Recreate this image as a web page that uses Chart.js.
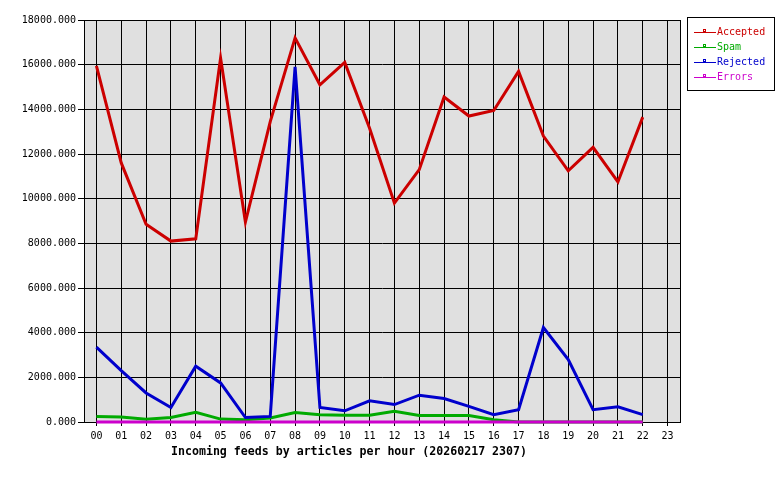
<!DOCTYPE html>
<html>
<head>
<meta charset="utf-8">
<script src="https://cdn.jsdelivr.net/npm/chart.js@4/dist/chart.umd.min.js"></script>
<style>
  html, body { margin: 0; padding: 0; background: #ffffff; }
  #wrap { width: 780px; height: 480px; position: relative; }
</style>
</head>
<body>
<div id="wrap"><canvas id="c" width="780" height="480"></canvas></div>
<script>
const hours = ['00','01','02','03','04','05','06','07','08','09','10','11','12','13','14','15','16','17','18','19','20','21','22','23'];
const accepted = [15950, 11600, 8850, 8100, 8200, 16300, 8950, 13450, 17200, 15100, 16100, 13150, 9800, 11300, 14550, 13700, 13950, 15700, 12800, 11250, 12300, 10750, 13650, null];
const spam     = [250, 220, 120, 200, 430, 130, 100, 180, 420, 330, 300, 300, 480, 290, 290, 290, 100, 0, 0, 0, 0, 0, 0, null];
const rejected = [3350, 2300, 1300, 650, 2500, 1750, 200, 250, 15900, 650, 500, 950, 780, 1200, 1050, 700, 330, 550, 4230, 2800, 550, 680, 330, null];
const errors   = [0, 0, 0, 0, 0, 0, 0, 0, 0, 0, 0, 0, 0, 0, 0, 0, 0, 0, 0, 0, 0, 0, 0, null];
const yTicks = [0, 2000, 4000, 6000, 8000, 10000, 12000, 14000, 16000, 18000];
const seriesNames = ['Accepted', 'Spam', 'Rejected', 'Errors'];
const chartTitle = 'Incoming feeds by articles per hour (20260217 2307)';

const COLORS = { Accepted: '#cc0000', Spam: '#00aa00', Rejected: '#0000cc', Errors: '#cc00cc' };
const MONO = '"DejaVu Sans Mono", "Liberation Mono", monospace';

const bgPlugin = {
  id: 'bgPlugin',
  beforeDraw(chart) {
    const { ctx, chartArea: a } = chart;
    ctx.save();
    ctx.fillStyle = '#e0e0e0';
    ctx.fillRect(a.left, a.top, a.right - a.left, a.bottom - a.top);
    ctx.restore();
  },
  beforeDatasetsDraw(chart) {
    const { ctx, chartArea: a } = chart;
    ctx.save();
    ctx.strokeStyle = '#000';
    ctx.lineWidth = 1;
    ctx.strokeRect(Math.round(a.left) + 0.5, Math.round(a.top) + 0.5, Math.round(a.right - a.left), Math.round(a.bottom - a.top));
    ctx.restore();
  },
  afterDraw(chart) {
    const { ctx } = chart;
    ctx.save();
    // title
    ctx.font = 'bold 11.6px ' + MONO;
    ctx.fillStyle = '#000';
    ctx.textAlign = 'center';
    ctx.textBaseline = 'middle';
    ctx.fillText(chartTitle, 349, 452);
    // legend
    ctx.strokeStyle = '#000';
    ctx.lineWidth = 1;
    ctx.strokeRect(687.5, 17.5, 87, 73);
    ctx.font = '10px ' + MONO;
    ctx.textAlign = 'left';
    seriesNames.forEach((n, i) => {
      const y = 32 + i * 15;
      const col = COLORS[n];
      ctx.strokeStyle = col;
      ctx.beginPath();
      ctx.moveTo(694, y + 0.5);
      ctx.lineTo(716, y + 0.5);
      ctx.stroke();
      ctx.strokeRect(703.5, y - 2.5, 2, 2);
      ctx.fillStyle = col;
      ctx.fillText(n, 717, y);
    });
    ctx.restore();
  }
};

const seriesData = [accepted, spam, rejected, errors];
const datasets = seriesNames.map((n, i) => ({
  label: n,
  data: seriesData[i],
  borderColor: COLORS[n],
  backgroundColor: COLORS[n],
  borderWidth: 3,
  pointRadius: 0,
  pointHoverRadius: 0,
  tension: 0,
  fill: false,
  spanGaps: false,
  clip: 2,
  order: seriesNames.length - i
}));

new Chart(document.getElementById('c'), {
  type: 'line',
  data: { labels: hours, datasets },
  options: {
    responsive: false,
    animation: false,
    devicePixelRatio: 1,
    layout: { padding: { top: 20, right: 100, left: 0, bottom: 0 } },
    plugins: { legend: { display: false }, title: { display: false }, tooltip: { enabled: false } },
    scales: {
      x: {
        type: 'category',
        offset: true,
        afterFit(s) { s.height = 58; },
        grid: { offset: false, color: '#000', lineWidth: 1, drawTicks: true, tickLength: 4, tickColor: '#000' },
        border: { display: true, color: '#000', width: 1 },
        ticks: { color: '#000', font: { family: MONO, size: 10 }, padding: 4, maxRotation: 0, autoSkip: false }
      },
      y: {
        min: 0,
        max: 18000,
        afterFit(s) { s.width = 84; },
        afterBuildTicks(s) { s.ticks = yTicks.map(v => ({ value: v })); },
        grid: { color: '#000', lineWidth: 1, drawTicks: true, tickLength: 6, tickColor: '#000' },
        border: { display: true, color: '#000', width: 1 },
        ticks: { color: '#000', font: { family: MONO, size: 10 }, padding: 2, callback: v => Number(v).toFixed(3) }
      }
    }
  },
  plugins: [bgPlugin]
});
</script>
</body>
</html>
